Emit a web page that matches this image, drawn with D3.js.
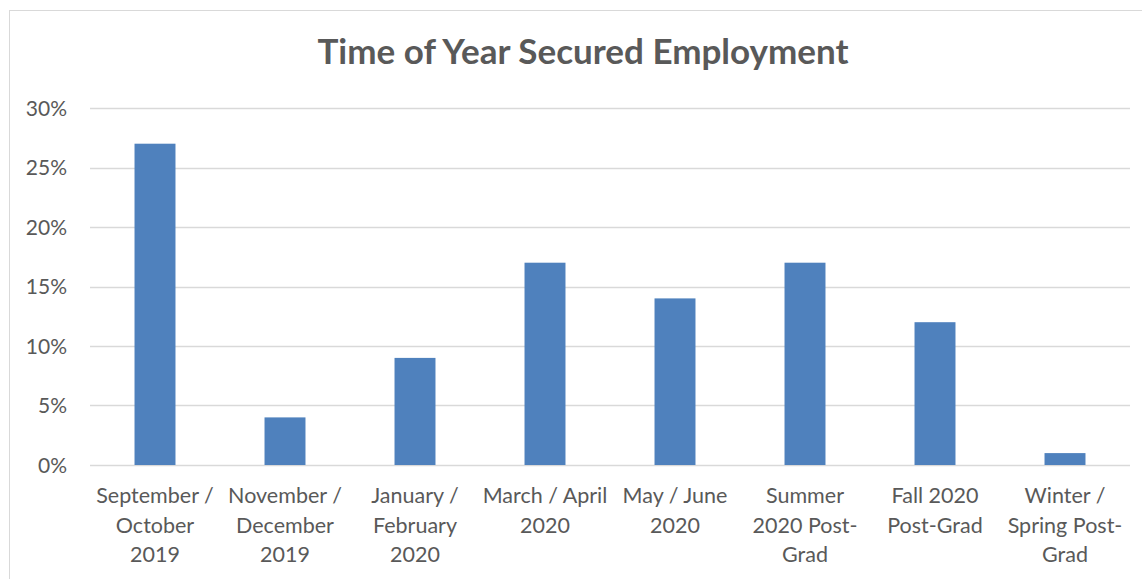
<!DOCTYPE html>
<html>
<head>
<meta charset="utf-8">
<script src="https://cdn.jsdelivr.net/npm/d3@7"></script>
<style>
  html, body { margin: 0; padding: 0; background: #fff; }
  svg { display: block; }
</style>
</head>
<body>
<svg id="chart" width="1142" height="579"></svg>
<script>
const categories = [
  "September /\nOctober\n2019",
  "November /\nDecember\n2019",
  "January /\nFebruary\n2020",
  "March / April\n2020",
  "May / June\n2020",
  "Summer\n2020 Post-\nGrad",
  "Fall 2020\nPost-Grad",
  "Winter /\nSpring Post-\nGrad"
];
const values = [0.27, 0.04, 0.09, 0.17, 0.14, 0.17, 0.12, 0.01];
const yTicks = [0, 0.05, 0.10, 0.15, 0.20, 0.25, 0.30];
const title = "Time of Year Secured Employment";

(function () {
const svg = d3.select("#chart");
const font = "Lato, 'Open Sans', sans-serif";
const textColor = "#595959";

// chart area border
svg.append("rect")
  .attr("x", 9.5).attr("y", 10.5)
  .attr("width", 1150).attr("height", 600)
  .attr("fill", "#fff").attr("stroke", "#d9d9d9").attr("stroke-width", 1);

const pLeft = 90, pRight = 1130, pTop = 108, pBottom = 465;

const x = d3.scaleBand().domain(categories).range([pLeft, pRight]).paddingInner(0.685).paddingOuter(0.3425);
const y = d3.scaleLinear().domain([0, 0.30]).range([pBottom, pTop]);

// gridlines
svg.append("g").selectAll("line").data(yTicks).join("line")
  .attr("x1", pLeft).attr("x2", pRight)
  .attr("y1", d => Math.round(y(d)) + 0.5).attr("y2", d => Math.round(y(d)) + 0.5)
  .attr("stroke", "#d9d9d9").attr("stroke-width", 1.5);

// y axis labels
const yAxis = d3.axisLeft(y).tickValues(yTicks).tickFormat(d3.format(".0%")).tickSize(0).tickPadding(0);
const yg = svg.append("g").attr("transform", `translate(67,0)`).call(yAxis);
yg.select(".domain").remove();
yg.selectAll("text").attr("font-family", font).attr("font-size", 21).attr("fill", textColor).attr("dy", "0.35em");

// bars
svg.append("g").selectAll("rect").data(values).join("rect")
  .attr("x", (d, i) => x(categories[i]))
  .attr("width", x.bandwidth())
  .attr("y", d => y(d))
  .attr("height", d => y(0) - y(d))
  .attr("fill", "#4f81bd");

// x labels
const xl = svg.append("g").selectAll("text").data(categories).join("text")
  .attr("x", d => x(d) + x.bandwidth() / 2)
  .attr("y", 503)
  .attr("text-anchor", "middle")
  .attr("font-family", font).attr("font-size", 21.5).attr("fill", textColor);
xl.each(function(d) {
  const t = d3.select(this);
  d.split("\n").forEach((line, i) => {
    t.append("tspan").attr("x", t.attr("x")).attr("dy", i === 0 ? 0 : 29.5).text(line);
  });
});

// title
svg.append("text")
  .attr("x", 583).attr("y", 64)
  .attr("text-anchor", "middle")
  .attr("font-family", font).attr("font-weight", "bold").attr("font-size", 35)
  .attr("fill", textColor)
  .text(title);
})();
</script>
</body>
</html>
